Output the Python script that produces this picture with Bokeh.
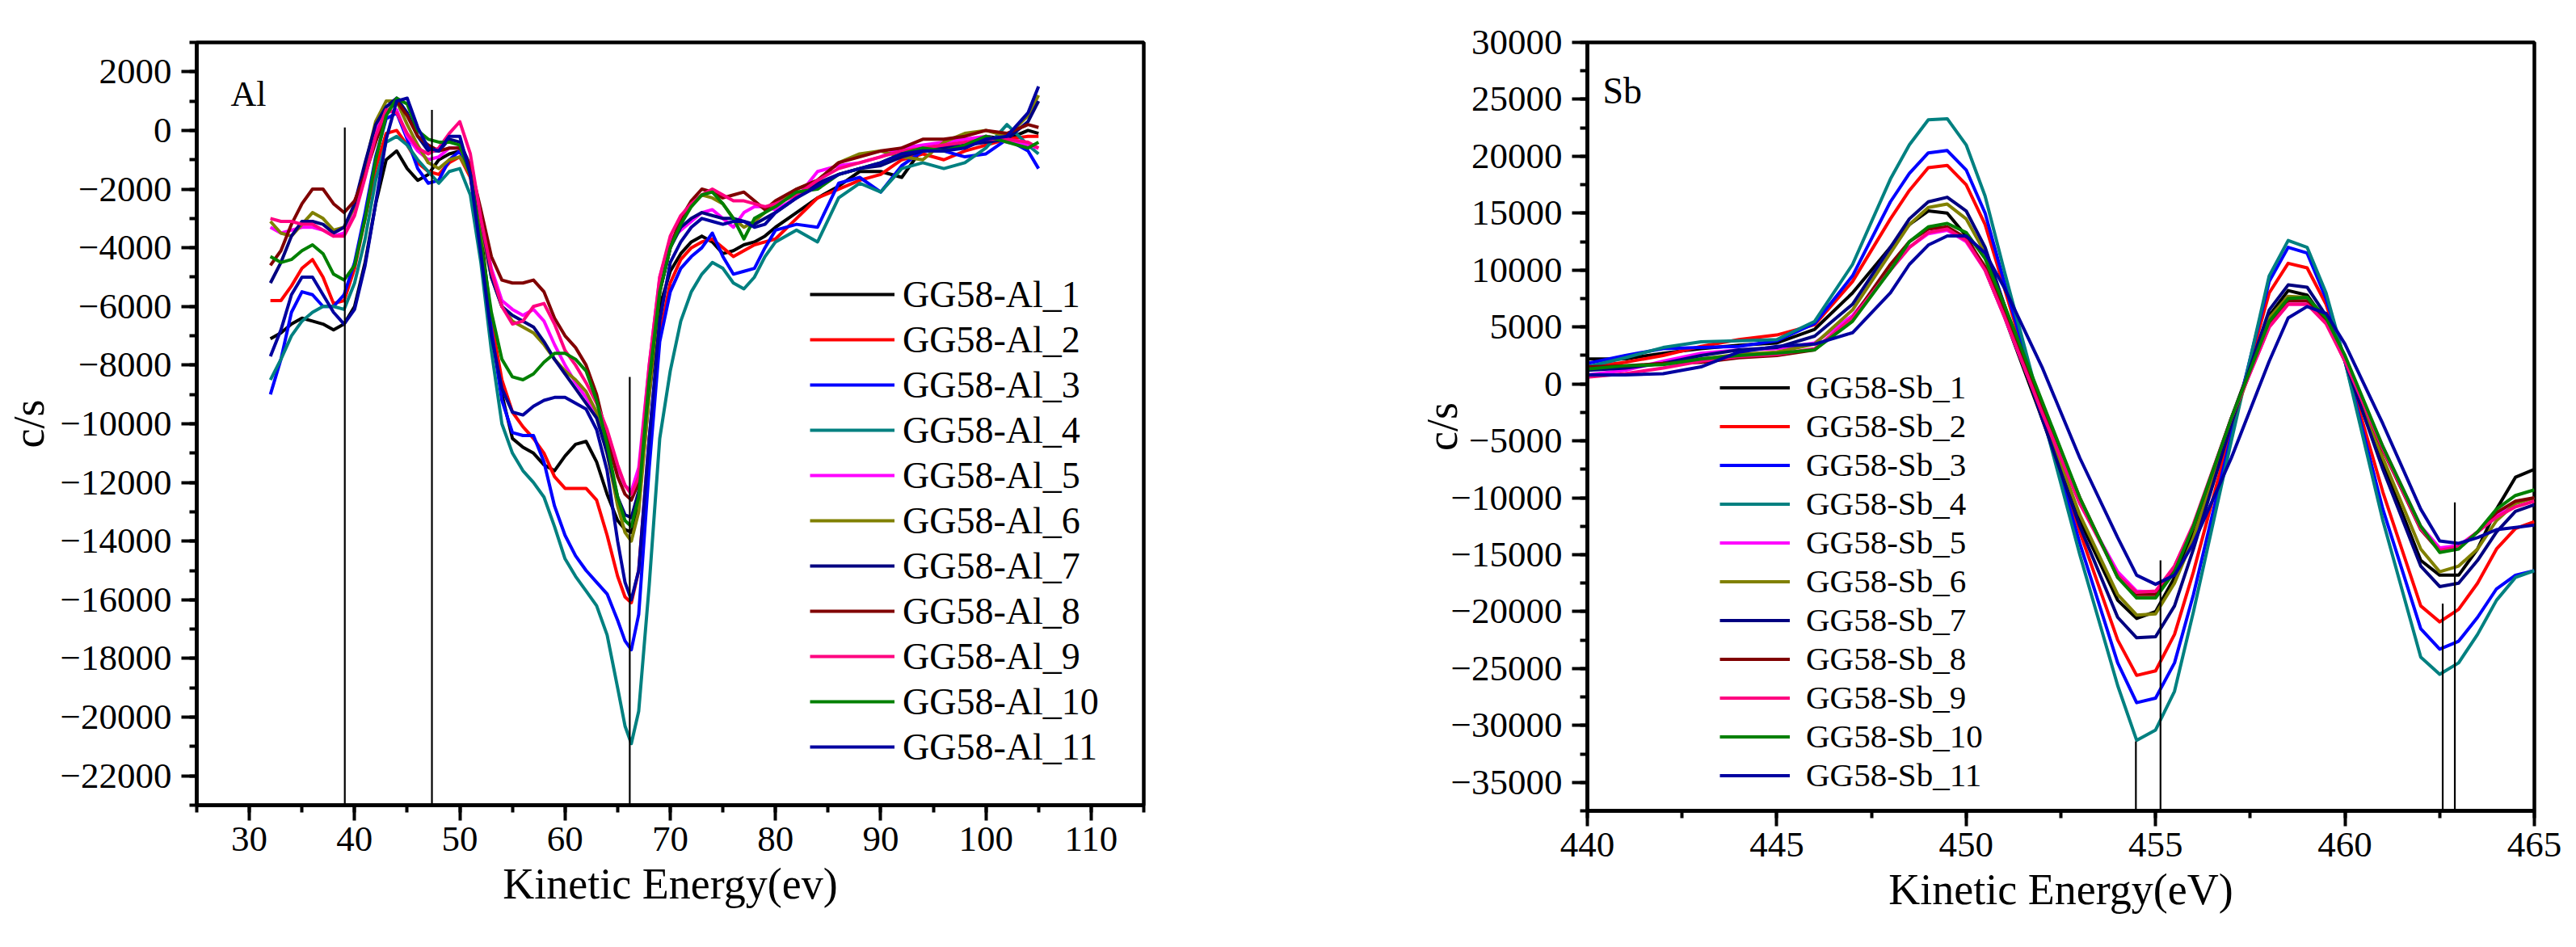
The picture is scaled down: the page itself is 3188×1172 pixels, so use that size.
from bokeh.plotting import figure
from bokeh.layouts import row
from bokeh.models import (Range1d, SingleIntervalTicker, Legend, LegendItem,
                          Label, ColumnDataSource)
from bokeh.embed import file_html
from bokeh.resources import INLINE

SERIF = "Liberation Serif"

COLORS = ["#000000", "#FF0000", "#0000FF", "#008080", "#FF00FF", "#808000",
          "#000080", "#800000", "#FF0080", "#008000", "#0000A0"]

# ---------------- Al Auger spectra ----------------
AL_X = [32, 33, 34, 35, 36, 37, 38, 39, 40, 41, 42, 43, 44, 45, 46, 47, 48, 49, 50, 51,
        52, 53, 54, 55, 56, 57, 58, 59, 60, 61, 62, 63, 64, 65, 65.7, 66.3, 67, 68, 69, 70,
        71, 72, 73, 74, 75, 76, 77, 78, 79, 80, 82, 84, 86, 88, 90, 92, 94, 96, 98, 100,
        102, 104, 105]

AL_1 = [-7100, -6900, -6600, -6400, -6500, -6600, -6800, -6600, -6000, -4500, -2500, -1000, -700, -1300, -1700, -1500, -1000, -800, -700, -1500,
        -3500, -6500, -9000, -10500, -10800, -11000, -11400, -11600, -11100, -10700, -10600, -11300, -12400, -13300, -13600, -13700, -12800, -9000, -6000, -4800,
        -4200, -3800, -3600, -3800, -4200, -4100, -3900, -3800, -3600, -3300, -2800, -2300, -1900, -1400, -1400, -1600, -600, -500, -600, -200,
        -300, 0, -100]
AL_2 = [-5800, -5800, -5300, -4700, -4400, -5000, -5900, -5800, -4700, -3000, -1300, -100, 0, -500, -1100, -1400, -1500, -1100, -900, -1600,
        -3800, -6500, -8500, -9600, -10100, -10500, -11000, -11800, -12200, -12200, -12200, -12600, -13800, -15200, -15900, -16100, -15000, -10500, -7000, -5200,
        -4400, -4000, -3800, -3700, -4000, -4300, -4100, -3900, -3800, -3700, -3000, -2300, -2000, -1700, -1500, -1000, -800, -1000, -700, -500,
        -300, -200, -200]
AL_3 = [-9000, -7800, -6200, -5500, -5600, -6000, -6000, -5600, -4500, -2800, -900, 400, 600, -300, -1300, -1800, -1700, -1000, -700, -1500,
        -4000, -6800, -9200, -10300, -10400, -10400, -11300, -12800, -13800, -14500, -15000, -15400, -15800, -16700, -17400, -17700, -16500, -11500, -7200, -5500,
        -4700, -4300, -4000, -3500, -4300, -4900, -4800, -4700, -4000, -3400, -3200, -3300, -1800, -1600, -2100, -1200, -700, -700, -900, -800,
        -300, -700, -1300]
AL_4 = [-8500, -7800, -7000, -6500, -6200, -6000, -6000, -6100, -5200, -3700, -1700, -400, -200, -500, -1000, -1400, -1800, -1400, -1300, -2200,
        -4500, -7500, -10000, -11000, -11600, -12000, -12500, -13500, -14600, -15200, -15700, -16200, -17200, -19000, -20300, -20900, -19800, -15500, -10500, -8200,
        -6500, -5500, -4900, -4500, -4700, -5200, -5400, -5000, -4300, -3800, -3400, -3800, -2300, -1800, -2100, -1300, -1100, -1300, -1100, -600,
        200, -500, -800]
AL_5 = [-3300, -3500, -3400, -3300, -3300, -3400, -3600, -3500, -2600, -1300, 0, 600, 700, -200, -700, -1000, -900, -600, -600, -1300,
        -3000, -4700, -5800, -6100, -6300, -6100, -6500, -7300, -8000, -8600, -9100, -9700, -10500, -11500, -12100, -12300, -11500, -8000, -5000, -3700,
        -3400, -3100, -2800, -2700, -3000, -3300, -2800, -2600, -2600, -2700, -2300, -1400, -1200, -1100, -900, -600, -500, -400, -300, -200,
        -400, -500, -600]
AL_6 = [-3100, -3500, -3600, -3200, -2800, -3000, -3400, -3300, -2600, -1200, 300, 1000, 1000, 200, -500, -1100, -1300, -1000, -900, -1500,
        -3300, -5000, -6000, -6500, -6700, -6900, -7300, -7800, -8200, -8500, -8900, -9600, -11000, -12800, -13700, -14000, -13000, -9000, -5500, -4000,
        -3000, -2500, -2200, -2300, -2500, -3000, -3300, -3100, -2800, -2500, -2000, -1700, -1100, -800, -700, -900, -1000, -400, -100, 0,
        -200, 500, 1200]
AL_7 = [-5200, -4500, -3600, -3100, -3100, -3200, -3500, -3300, -2500, -1100, 200, 800, 1100, 600, -200, -700, -700, -300, -400, -1200,
        -3000, -5000, -6000, -6300, -6500, -6700, -7200, -7800, -8300, -8800, -9300, -9800, -11000, -12500, -13100, -13200, -12300, -8500, -5500, -4000,
        -3300, -3000, -2800, -2900, -3000, -3000, -3100, -3200, -3000, -2800, -2300, -1800, -1500, -1300, -1200, -900, -700, -600, -500, -400,
        -300, 300, 1000]
AL_8 = [-4600, -4100, -3200, -2500, -2000, -2000, -2500, -2800, -2400, -1500, -400, 600, 1000, 500, -200, -500, -700, -600, -600, -1200,
        -2700, -4300, -5100, -5200, -5200, -5100, -5500, -6400, -7000, -7400, -8000, -9000, -10500, -11800, -12400, -12600, -12000, -8500, -5500, -4000,
        -3000, -2400, -2000, -2100, -2300, -2200, -2100, -2400, -2700, -2400, -2000, -1700, -1100, -900, -700, -600, -300, -300, -200, 0,
        -100, 200, 100]
AL_9 = [-3000, -3100, -3100, -3200, -3200, -3400, -3600, -3600, -2900, -1600, -200, 700, 600, -100, -600, -800, -600, -100, 300, -800,
        -3000, -4800, -6000, -6600, -6500, -6000, -5900, -6600, -7500, -8000, -8600, -9300, -10200, -11400, -12100, -12400, -11800, -8000, -5000, -3600,
        -2900, -2500, -2200, -2000, -2200, -2400, -2400, -2500, -2600, -2500, -2200, -1700, -1300, -1100, -900, -700, -600, -500, -400, -300,
        -300, -400, -600]
AL_10 = [-4300, -4500, -4400, -4100, -3900, -4200, -4900, -5100, -4600, -3000, -1000, 500, 1100, 900, 0, -300, -400, -400, -500, -1500,
         -3800, -6200, -7800, -8400, -8500, -8300, -7900, -7600, -7600, -7800, -8200, -9200, -10700, -12500, -13300, -13500, -12500, -8500, -5500, -4000,
         -3200, -2600, -2200, -2100, -2500, -3000, -3700, -3000, -2800, -2600, -2100, -2000, -1500, -1300, -1100, -800, -600, -700, -500, -200,
         -400, -600, -400]
AL_11 = [-7700, -6800, -5600, -5000, -5000, -5600, -6200, -6600, -6100, -4600, -2500, -300, 1000, 1100, 100, -600, -700, -200, -200, -1500,
         -4200, -7000, -8800, -9600, -9700, -9400, -9200, -9100, -9100, -9300, -9500, -10200, -11600, -14000, -15400, -16000, -15000, -10500, -6500, -4500,
         -3800, -3300, -3000, -3100, -3200, -3100, -3100, -3300, -3200, -2800, -2300, -1900, -1500, -1300, -1100, -800, -700, -700, -600, -300,
         -200, 600, 1500]

AL_SERIES = [AL_1, AL_2, AL_3, AL_4, AL_5, AL_6, AL_7, AL_8, AL_9, AL_10, AL_11]
AL_NAMES = ["GG58-Al_%d" % i for i in range(1, 12)]
AL_MARK_X = [39.07, 47.35, 66.15]
AL_MARK_TOP = [100, 700, -8400]

# ---------------- Sb Auger spectra ----------------
SB_X = [440, 441, 442, 443, 444, 445, 446, 447, 448, 448.5, 449, 449.5, 450, 450.5, 451, 452,
        453, 454, 454.5, 455, 455.5, 456, 457, 458, 458.5, 459, 459.5, 460, 461, 462, 462.5,
        463, 463.5, 464, 464.5, 465]

SB_1 = [2200, 2200, 2700, 3100, 3400, 3600, 4800, 8000, 12000, 14000, 15200, 15000, 13000, 10000, 6000, -3000,
        -12000, -19000, -20600, -20000, -17000, -13000, -3000, 6000, 8200, 7800, 5500, 2000, -7000, -15500, -16800,
        -16800, -14500, -11000, -8200, -7500]
SB_2 = [1500, 1900, 2500, 3300, 3900, 4300, 5200, 9000, 14500, 17000, 19000, 19200, 17500, 14000, 8500, -2500,
        -13000, -22500, -25600, -25200, -22000, -16500, -4000, 8000, 10600, 10200, 7000, 2000, -9500, -19500, -20900,
        -19800, -17500, -14500, -12700, -12100]
SB_3 = [1800, 2500, 3100, 3200, 3300, 3800, 5300, 9500, 16000, 18500, 20300, 20500, 18800, 15000, 9000, -2500,
        -14000, -24500, -28000, -27600, -24500, -18500, -4500, 9000, 12000, 11500, 7500, 2000, -11000, -21500, -23300,
        -22600, -20500, -18000, -16800, -16400]
SB_4 = [1500, 2300, 3200, 3700, 3800, 3900, 5500, 10500, 18000, 21000, 23200, 23300, 21000, 16500, 10000, -2500,
        -15000, -26500, -31300, -30400, -27000, -20000, -5000, 9500, 12600, 12000, 8000, 2000, -12000, -24000, -25500,
        -24500, -22000, -19000, -17000, -16400]
SB_5 = [800, 1200, 2000, 2700, 3000, 3100, 3600, 6000, 10000, 12000, 13200, 13500, 12500, 10000, 6000, -2500,
        -10500, -16500, -18200, -18300, -16000, -12500, -3000, 5000, 7000, 7000, 5500, 2000, -5500, -12500, -14400,
        -14200, -13000, -11500, -10500, -10000]
SB_6 = [1300, 1500, 1800, 2200, 2600, 2800, 3500, 6500, 11500, 14000, 15500, 15800, 14500, 11500, 7000, -2500,
        -11500, -18500, -20300, -20200, -17500, -13500, -3500, 5800, 7700, 7600, 5500, 2000, -6500, -14500, -16500,
        -16000, -14500, -12000, -10500, -10000]
SB_7 = [1200, 1400, 1800, 2500, 3000, 3200, 4200, 7000, 12000, 14500, 16000, 16400, 15200, 12000, 7000, -3000,
        -12500, -20500, -22300, -22200, -19500, -14500, -3500, 6500, 8700, 8500, 6000, 2000, -7500, -16000, -17800,
        -17500, -15500, -13000, -11200, -10600]
SB_8 = [1500, 1600, 1800, 1900, 2300, 2500, 3000, 5800, 10500, 12500, 13600, 13800, 12800, 10300, 6500, -2000,
        -10000, -17000, -18500, -18500, -16200, -12500, -3000, 5200, 7300, 7300, 5500, 2200, -5800, -12800, -14700,
        -14400, -13000, -11300, -10300, -10000]
SB_9 = [600, 900, 1400, 2000, 2400, 2600, 3100, 5800, 10000, 12000, 13300, 13600, 12600, 10000, 6000, -2500,
        -10500, -16800, -18300, -18200, -16000, -12300, -3000, 5000, 7000, 7000, 5300, 2000, -5700, -12700, -14600,
        -14300, -13000, -11700, -10800, -10300]
SB_10 = [1300, 1600, 1700, 2200, 2500, 2700, 3000, 5500, 10000, 12500, 13800, 14100, 13300, 11000, 7000, -1500,
         -10000, -17000, -18800, -18800, -16500, -12500, -3000, 5500, 7500, 7600, 5800, 2500, -5500, -12500, -14800,
         -14500, -13000, -11000, -9800, -9300]
SB_11 = [800, 800, 900, 1500, 2800, 3300, 3500, 4500, 8000, 10500, 12200, 13000, 13000, 11500, 8500, 1500,
         -6500, -13500, -16800, -17600, -16800, -14000, -6500, 2000, 5800, 6800, 6200, 3500, -3500, -11000, -13800,
         -14000, -13500, -12800, -12600, -12400]

SB_SERIES = [SB_1, SB_2, SB_3, SB_4, SB_5, SB_6, SB_7, SB_8, SB_9, SB_10, SB_11]
SB_NAMES = ["GG58-Sb_%d" % i for i in range(1, 12)]
SB_MARK_X = [454.48, 455.13, 462.58, 462.9]
SB_MARK_TOP = [-31400, -15500, -19300, -10400]


def style_axes(p, x_step, y_step, xlabel, ylabel, ylabel_standoff):
    p.xaxis.ticker = SingleIntervalTicker(interval=x_step, num_minor_ticks=2)
    p.yaxis.ticker = SingleIntervalTicker(interval=y_step, num_minor_ticks=2)
    p.xaxis.axis_label = xlabel
    p.yaxis.axis_label = ylabel
    for ax in (p.xaxis[0], p.yaxis[0]):
        ax.axis_line_width = 4.5
        ax.axis_line_color = "black"
        ax.major_tick_line_width = 4
        ax.minor_tick_line_width = 4
        ax.major_tick_line_color = "black"
        ax.minor_tick_line_color = "black"
        ax.major_tick_out = 19
        ax.major_tick_in = 0
        ax.minor_tick_out = 9
        ax.minor_tick_in = 0
        ax.major_label_text_font = SERIF
        ax.major_label_text_font_size = "45px"
        ax.major_label_text_color = "black"
        ax.axis_label_text_font = SERIF
        ax.axis_label_text_font_size = "54px"
        ax.axis_label_text_font_style = "normal"
        ax.axis_label_text_color = "black"
    p.xaxis.major_label_standoff = 8
    p.yaxis.major_label_standoff = 12
    p.xaxis.axis_label_standoff = 8
    p.yaxis.axis_label_standoff = ylabel_standoff
    p.xgrid.visible = False
    p.ygrid.visible = False
    p.outline_line_color = "black"
    p.outline_line_width = 4.5
    p.outline_line_alpha = 1.0
    p.background_fill_color = "white"
    p.border_fill_color = "white"


def make_panel(xs, series, names, colors, mark_x, mark_top, x_range, y_range,
               frame_h, borders, steps, labels, ylabel_standoff, tag, tag_pos,
               tag_size, leg_loc, leg_h, leg_gw, leg_standoff, leg_font):
    left, right, top, bottom = borders
    p = figure(frame_width=1172, frame_height=frame_h,
               x_range=Range1d(*x_range), y_range=Range1d(*y_range),
               min_border_left=left, min_border_right=right,
               min_border_top=top, min_border_bottom=bottom,
               output_backend="svg", toolbar_location=None)
    style_axes(p, steps[0], steps[1], labels[0], labels[1], ylabel_standoff)

    items = []
    for ys, name, col in zip(series, names, colors):
        src = ColumnDataSource(dict(x=xs, y=ys))
        r = p.line("x", "y", source=src, line_color=col, line_width=4,
                   line_join="round")
        items.append(LegendItem(label=name, renderers=[r]))

    # thin peak-position markers rising from the bottom of the frame
    base = [y_range[0]] * len(mark_x)
    p.segment(x0=mark_x, y0=base, x1=mark_x, y1=mark_top,
              line_color="black", line_width=2.2)

    legend = Legend(items=items, location=leg_loc, orientation="vertical",
                    glyph_width=leg_gw, glyph_height=leg_h, label_height=leg_h,
                    spacing=0, padding=0, margin=0, label_standoff=leg_standoff,
                    border_line_alpha=0, background_fill_alpha=0,
                    label_text_font=SERIF, label_text_font_size=leg_font,
                    label_text_color="black")
    p.add_layout(legend)

    p.add_layout(Label(x=tag_pos[0], y=tag_pos[1], x_units="screen",
                       y_units="screen", text=tag, text_font=SERIF,
                       text_font_size=tag_size, text_color="black",
                       text_baseline="alphabetic"))
    return p


p_al = make_panel(AL_X, AL_SERIES, AL_NAMES, COLORS, AL_MARK_X, AL_MARK_TOP,
                  (25, 115), (-23000, 3000), 944, (243, 185, 52, 176),
                  (10, 2000), ("Kinetic Energy(ev)", "c/s"), 6,
                  "Al", (42, 880), "44px",
                  (759, 44), 56, 105, 10, "46px")

p_sb = make_panel(SB_X, SB_SERIES, SB_NAMES, COLORS, SB_MARK_X, SB_MARK_TOP,
                  (440, 465), (-37500, 30000), 951, (364, 52, 42, 179),
                  (5, 5000), ("Kinetic Energy(eV)", "c/s"), -22,
                  "Sb", (19, 891), "46px",
                  (164, 20), 47, 87, 20, "41px")

layout = row(p_al, p_sb)

with open("out.html", "w") as f:
    f.write(file_html(layout, INLINE))
